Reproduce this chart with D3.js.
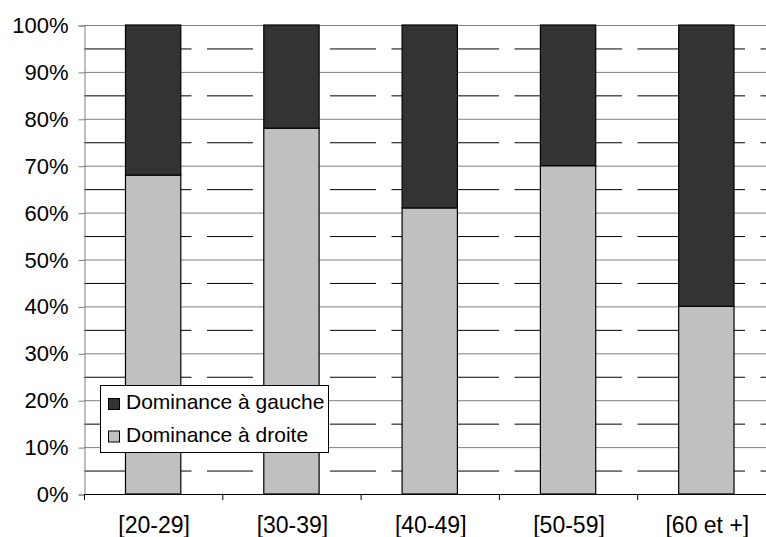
<!DOCTYPE html>
<html>
<head>
<meta charset="utf-8">
<script src="https://cdn.jsdelivr.net/npm/d3@7"></script>
<style>
  body { margin: 0; background: #fff; }
  svg { display: block; font-family: "Liberation Sans", Arial, sans-serif; }
</style>
</head>
<body>
<svg id="chart" width="766" height="537"></svg>
<script>
// Data
var categories = ["[20-29]", "[30-39]", "[40-49]", "[50-59]", "[60 et +]"];
var droite = [68, 78, 61, 70, 40];   // Dominance à droite (bottom)
var gauche = [32, 22, 39, 30, 60];   // Dominance à gauche (top)
var seriesNames = ["Dominance à gauche", "Dominance à droite"];
var majorTicks = [0, 10, 20, 30, 40, 50, 60, 70, 80, 90, 100];
var minorTicks = [5, 15, 25, 35, 45, 55, 65, 75, 85, 95];

// Plot area (right edge runs past the picture, as in the reference)
var plotLeft = 84, plotRight = 775.5, plotTop = 25, plotBottom = 494;

var svg = d3.select("#chart");

var x = d3.scaleBand()
    .domain(categories)
    .range([plotLeft, plotRight])
    .padding(0);

var y = d3.scaleLinear()
    .domain([0, 100])
    .range([plotBottom, plotTop]);

var barW = x.bandwidth() / 2.5;

// Gridlines
svg.append("g").selectAll("line")
    .data(majorTicks.filter(d => d > 0))
    .enter().append("line")
    .attr("x1", plotLeft).attr("x2", plotRight)
    .attr("y1", d => y(d) + 0.5).attr("y2", d => y(d) + 0.5)
    .attr("stroke", "#808080")
    .attr("stroke-width", 1);

svg.append("g").selectAll("line")
    .data(minorTicks)
    .enter().append("line")
    .attr("x1", plotLeft).attr("x2", plotRight)
    .attr("y1", d => y(d) + 0.5).attr("y2", d => y(d) + 0.5)
    .attr("stroke", "#000")
    .attr("stroke-width", 1)
    .attr("stroke-dasharray", "46,15.5");

// Y axis
var yAxis = svg.append("g")
    .attr("transform", "translate(" + (plotLeft + 0.5) + ",0.5)")
    .call(d3.axisLeft(y).tickValues(majorTicks).tickSize(6).tickPadding(10)
        .tickFormat(d => d + "%"));
yAxis.select(".domain").attr("stroke", "#808080");
yAxis.selectAll(".tick line").attr("stroke", "#808080");
yAxis.selectAll("text").attr("font-size", 22).attr("fill", "#000")
    .attr("font-family", "Liberation Sans, Arial, sans-serif");

// Bars
var bars = svg.append("g");
bars.selectAll(".droite")
    .data(categories)
    .enter().append("rect")
    .attr("x", (d) => x(d) + x.bandwidth() / 2 - barW / 2)
    .attr("width", barW)
    .attr("y", (d, i) => y(droite[i]))
    .attr("height", (d, i) => y(0) - y(droite[i]))
    .attr("fill", "#c0c0c0")
    .attr("stroke", "#000")
    .attr("stroke-width", 1.2);

bars.selectAll(".gauche")
    .data(categories)
    .enter().append("rect")
    .attr("x", (d) => x(d) + x.bandwidth() / 2 - barW / 2)
    .attr("width", barW)
    .attr("y", (d, i) => y(droite[i] + gauche[i]))
    .attr("height", (d, i) => y(droite[i]) - y(droite[i] + gauche[i]))
    .attr("fill", "#333333")
    .attr("stroke", "#000")
    .attr("stroke-width", 1.2);

// X axis
svg.append("line")
    .attr("x1", plotLeft).attr("x2", plotRight)
    .attr("y1", plotBottom + 0.5).attr("y2", plotBottom + 0.5)
    .attr("stroke", "#000");

svg.append("g").selectAll("line")
    .data(categories)
    .enter().append("line")
    .attr("x1", d => x(d) + 0.5).attr("x2", d => x(d) + 0.5)
    .attr("y1", plotBottom).attr("y2", plotBottom + 6)
    .attr("stroke", "#000");

svg.append("g").selectAll("text")
    .data(categories)
    .enter().append("text")
    .attr("x", d => x(d) + x.bandwidth() / 2 + 1)
    .attr("y", 533)
    .attr("text-anchor", "middle")
    .attr("font-size", 23)
    .text(d => d);

// Legend
var legend = svg.append("g");
legend.append("rect")
    .attr("x", 100.5).attr("y", 385.5)
    .attr("width", 228).attr("height", 67)
    .attr("fill", "#fff")
    .attr("stroke", "#000");

var legColors = ["#333333", "#c0c0c0"];
var legItems = legend.selectAll(".item")
    .data(seriesNames)
    .enter().append("g")
    .attr("transform", (d, i) => "translate(0," + (409 + i * 32.5) + ")");

legItems.append("rect")
    .attr("x", 108.5).attr("y", -10.5)
    .attr("width", 11).attr("height", 11)
    .attr("fill", (d, i) => legColors[i])
    .attr("stroke", "#000");

legItems.append("text")
    .attr("x", 126)
    .attr("y", 0)
    .attr("font-size", 21)
    .text(d => d);
</script>
</body>
</html>
